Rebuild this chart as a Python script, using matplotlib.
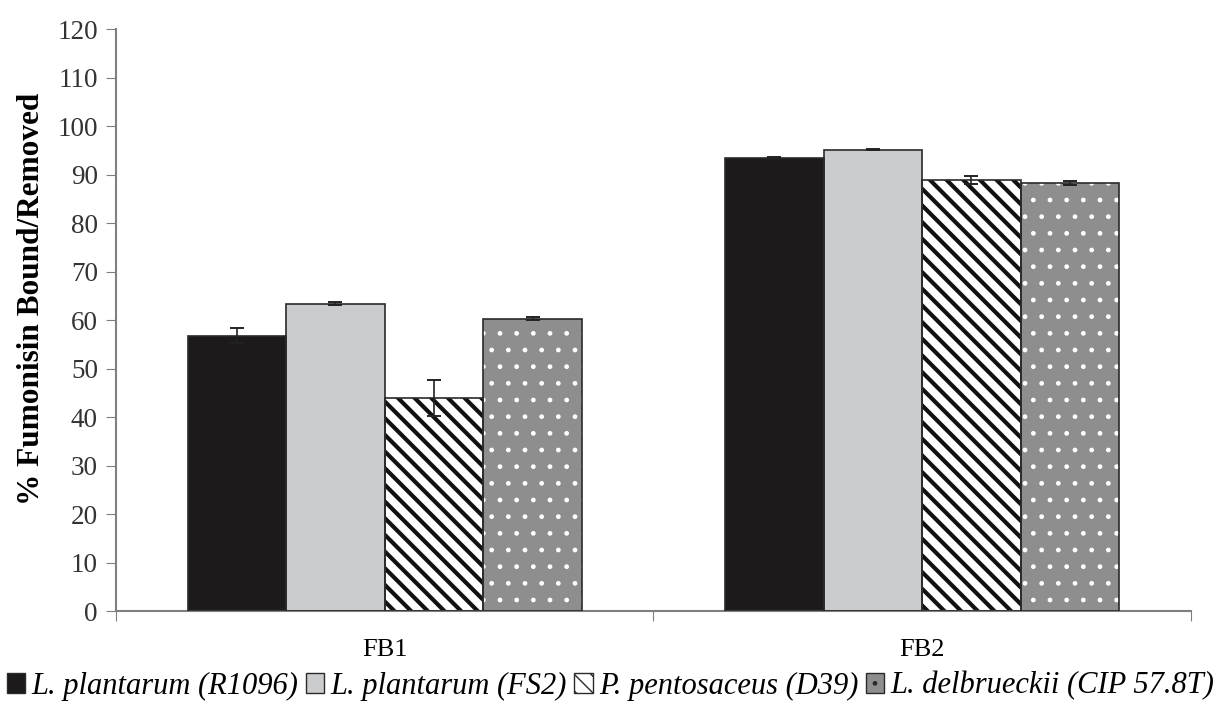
import numpy as np
import matplotlib
matplotlib.use("Agg")
import matplotlib.pyplot as plt
from matplotlib.patches import Patch

# data
toxins = ["FB1", "FB2"]
strains = ["L. plantarum (R1096)", "L. plantarum (FS2)",
           "P. pentosaceus (D39)", "L. delbrueckii (CIP 57.8T)"]
r1096 = [56.8, 93.4]
fs2 = [63.4, 95.1]
d39 = [44.0, 88.9]
cip = [60.3, 88.3]
r1096_err = [1.6, 0.2]
fs2_err = [0.4, 0.15]
d39_err = [3.7, 0.8]
cip_err = [0.4, 0.4]

values = [r1096, fs2, d39, cip]
errors = [r1096_err, fs2_err, d39_err, cip_err]

plt.rcParams['font.family'] = ['Liberation Serif', 'DejaVu Serif']
axis_grey = '#7f7f7f'

fig = plt.figure(figsize=(12.21, 7.04), dpi=100)
ax = fig.add_axes([0.095, 0.1321, 0.8804, 0.8267])

x = np.arange(len(toxins))
w = 0.1833
styles = [
    dict(face='#1c1a1b', hatch=None, hcolor=None),
    dict(face='#cbcccd', hatch=None, hcolor=None),
    dict(face='white', hatch='\\\\', hcolor='#111111'),
    dict(face='#8e8e8e', hatch='.', hcolor='white'),
]

handles = []
for i, (vals, errs, st) in enumerate(zip(values, errors, styles)):
    pos = x + (i - 1.5) * w
    if st['hatch']:
        # fill + hatch in hatch colour, then outline on top
        hb = ax.bar(pos, vals, w, color=st['face'], edgecolor=st['hcolor'],
                    hatch=st['hatch'], linewidth=0, zorder=2)
        for p in hb:
            if hasattr(p, 'set_hatch_linewidth'):
                p.set_hatch_linewidth(3.0 if st['hatch'] != '.' else 1.0)
    else:
        ax.bar(pos, vals, w, color=st['face'], linewidth=0, zorder=2)
    ax.bar(pos, vals, w, fill=False, edgecolor='#2a2a2a', linewidth=1.2, zorder=3)
    ax.errorbar(pos, vals, yerr=errs, fmt='none', ecolor='#222222',
                elinewidth=1.2, capsize=5, capthick=1.4, zorder=4)
    handles.append(Patch(facecolor=st['face'], edgecolor='#2a2a2a', linewidth=1.0,
                         hatch=st['hatch']))

ax.set_xlim(-0.5, 1.5)
ax.set_ylim(0, 120)
ax.set_yticks(np.arange(0, 121, 10))
ax.set_xticks([-0.5, 0.5, 1.5])
ax.set_xticklabels([])
ax.set_xticks(x, minor=True)
ax.set_xticklabels(toxins, minor=True, fontsize=19)
ax.tick_params(axis='x', which='minor', length=0, pad=20)
ax.tick_params(axis='x', which='major', length=7, color=axis_grey, direction='out')
ax.tick_params(axis='y', length=7, color=axis_grey, direction='out', labelsize=19.5, pad=6,
               labelcolor='#333333')

for s in ['top', 'right']:
    ax.spines[s].set_visible(False)
for s in ['left', 'bottom']:
    ax.spines[s].set_color(axis_grey)
    ax.spines[s].set_linewidth(1.5)

ax.set_ylabel('% Fumonisin Bound/Removed', fontsize=22.5, fontweight='bold')
ax.yaxis.set_label_coords(-0.065, 0.536)

fig.legend(handles, strains, loc='center', bbox_to_anchor=(0.5, 1 - 686 / 704),
           ncol=4, frameon=False, prop=dict(style='italic', size=22),
           handlelength=0.6, handleheight=0.6, handletextpad=0.2, columnspacing=0.25,
           borderaxespad=0, borderpad=0)

fig.savefig('out.png', dpi=100, facecolor='white')
